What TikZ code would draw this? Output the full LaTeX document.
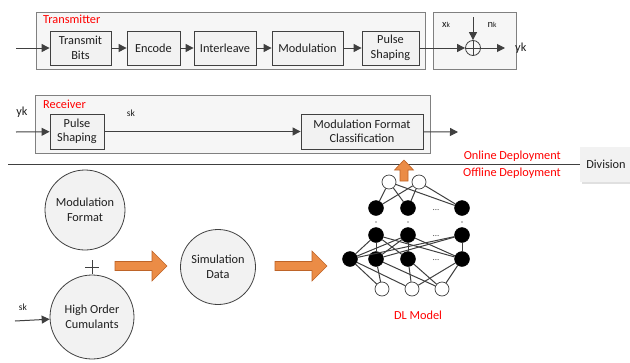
\documentclass[tikz,border=0pt]{standalone}
\usepackage{fontspec}
\setmainfont{Carlito}
\usetikzlibrary{arrows.meta}
\definecolor{boxfill}{RGB}{242,242,242}
\definecolor{contfill}{RGB}{246,246,246}
\definecolor{boxline}{RGB}{64,64,64}
\definecolor{contline}{RGB}{128,128,128}
\definecolor{txt}{RGB}{30,30,30}
\definecolor{orfill}{RGB}{235,140,70}
\definecolor{orline}{RGB}{190,100,40}
\begin{document}
\begin{tikzpicture}[x=1pt,y=-1pt,
  every node/.style={font=\fontsize{12.3}{14.5}\selectfont, text=txt, inner sep=0pt},
  blk/.style={draw=boxline, fill=boxfill, line width=0.8pt, align=center, minimum height=34pt},
  cont/.style={draw=contline, fill=contfill, line width=0.8pt},
  redlbl/.style={text=red, anchor=west},
  arr/.style={draw=boxline, line width=1pt, -{Triangle[length=8pt,width=8pt]}},
  bigc/.style={circle, draw=boxline, fill=boxfill, line width=0.8pt, align=center},
  wn/.style={circle, draw=boxline, fill=white, line width=0.7pt, minimum size=14pt},
  bn/.style={circle, draw=black, fill=black, minimum size=15pt},
  nn/.style={draw=boxline, line width=1pt},
  orarr/.style={fill=orfill, draw=orline, line width=0.6pt}
]
\useasboundingbox (0,0) rectangle (630,362);

% containers
\draw[cont] (36,12) rectangle (425,69);
\draw[cont] (433,12) rectangle (516,69);
\draw[cont] (35,95) rectangle (430,153);
\node[redlbl] (txlbl) at (43,19) {Transmitter};
\node[redlbl] (rxlbl) at (43,104) {Receiver};

% transmitter chain
\coordinate (txin) at (16,48);
\node[blk, minimum width=61pt] (tb) at (80.5,48) {Transmit\\Bits};
\node[blk, minimum width=53pt] (enc) at (153.5,48) {Encode};
\node[blk, minimum width=62pt] (intl) at (225,48) {Interleave};
\node[blk, minimum width=71pt] (mod) at (307.5,48) {Modulation};
\node[blk, minimum width=57pt] (ps) at (390.5,48) {Pulse\\Shaping};
\draw[arr] (txin) -- (tb);
\draw[arr] (tb) -- (enc);
\draw[arr] (enc) -- (intl);
\draw[arr] (intl) -- (mod);
\draw[arr] (mod) -- (ps);

% channel
\node[circle, draw=boxline, line width=0.8pt, minimum size=15pt] (sum) at (473,48) {};
\draw[boxline, line width=0.8pt] (sum.north) -- (sum.south) (sum.west) -- (sum.east);
\coordinate (nin) at (473,17);
\coordinate (yout) at (505,48);
\draw[arr] (ps) -- (sum);
\draw[arr] (nin) -- (sum);
\draw[arr] (sum) -- (yout);
\node (xk) at (446,25) {\fontsize{10.5}{12}\selectfont x\fontsize{7.5}{8}\selectfont k};
\node (nk) at (492,25) {\fontsize{10.5}{12}\selectfont n\fontsize{7.5}{8}\selectfont k};
\node[anchor=west] (yk) at (515,48) {yk};

% receiver chain
\coordinate (rxin) at (16,132);
\node (ykin) at (22,112) {yk};
\node[blk, minimum width=54pt, minimum height=35pt] (rps) at (77,131.5) {Pulse\\Shaping};
\node[blk, minimum width=122pt, minimum height=35pt] (mfc) at (362,131.5) {Modulation Format\\Classification};
\coordinate (rxout) at (458,132);
\node (skr) at (131,113) {\fontsize{9.5}{10}\selectfont sk};
\draw[arr] (rxin) -- (rps);
\draw[arr] (rps) -- (mfc);
\draw[arr] (mfc) -- (rxout);

% division
\fill[black!12] (582,149) rectangle (630,184);
\fill[boxfill] (580,147) rectangle (630,182);
\node (div) at (606,164) {Division};
\coordinate (divl) at (8,164);
\draw[boxline, line width=1pt] (divl) -- (div.west -| 580,0);
\node[text=red, anchor=east] (online) at (561,156) {Online Deployment};
\node[text=red, anchor=east] (offline) at (561,173) {Offline Deployment};

% orange up arrow
\draw[orarr] (404,160) -- (413.5,170) -- (408,170) -- (408,181) -- (400,181) -- (400,170) -- (394.5,170) -- cycle;

% offline circles
\node[bigc, minimum size=80pt] (mf) at (85,210) {Modulation\\Format};
\node[bigc, minimum size=84pt] (hoc) at (92,317) {High Order\\Cumulants};
\node[bigc, minimum size=75pt] (sim) at (218,267) {Simulation\\Data};
\draw[boxline, line width=1pt] (85,267) -- (99,267) (92,260) -- (92,274);
\coordinate (skin) at (15,321);
\node (skl) at (23,307) {\fontsize{9.5}{10}\selectfont sk};
\draw[arr] (skin) -- (hoc);

% orange block arrows
\draw[orarr] (115,261.5) -- (152,261.5) -- (152,251) -- (167,266) -- (152,281) -- (152,270.5) -- (115,270.5) -- cycle;
\draw[orarr] (275,261.5) -- (312,261.5) -- (312,251) -- (327,266) -- (312,281) -- (312,270.5) -- (275,270.5) -- cycle;

% DL network
\node[wn] (t1) at (389,182) {};
\node[wn] (t2) at (419,182) {};
\node[bn] (a1) at (376,208) {};
\node[bn] (a2) at (408,208) {};
\node[bn] (a3) at (462,208) {};
\node[bn] (b1) at (376,235) {};
\node[bn] (b2) at (408,235) {};
\node[bn] (b3) at (462,235) {};
\node[bn] (c0) at (350,259) {};
\node[bn] (c1) at (376,259) {};
\node[bn] (c2) at (408,259) {};
\node[bn] (c3) at (462,259) {};
\node[wn] (o1) at (382,289) {};
\node[wn] (o2) at (412,289) {};
\node[wn] (o3) at (442,289) {};
\foreach \x in {376,408,462} \fill[black] (\x,222) circle (0.6);
\node[text=black!70] (d1) at (436,210) {\fontsize{9}{10}\selectfont ...};
\node[text=black!70] (d2) at (436,236) {\fontsize{9}{10}\selectfont ...};
\node[text=black!70] (d3) at (436,260) {\fontsize{9}{10}\selectfont ...};
\foreach \u in {t1,t2} \foreach \v in {a1,a2,a3} \draw[nn] (\u) -- (\v);
\foreach \u/\v in {c0/b1,c0/b2,c0/b3,b1/c1,b1/c2,b1/c3,b2/c1,b2/c2,b3/c1,b3/c3,b2/c3}
  \draw[nn] (\u) -- (\v);
\foreach \u/\v in {c0/o1,c0/o2,c1/o1,c1/o3,c2/o2,c2/o3,c3/o2,c3/o3}
  \draw[nn] (\u) -- (\v);
\node[text=red] (dl) at (418,315) {DL Model};
\end{tikzpicture}
\end{document}
